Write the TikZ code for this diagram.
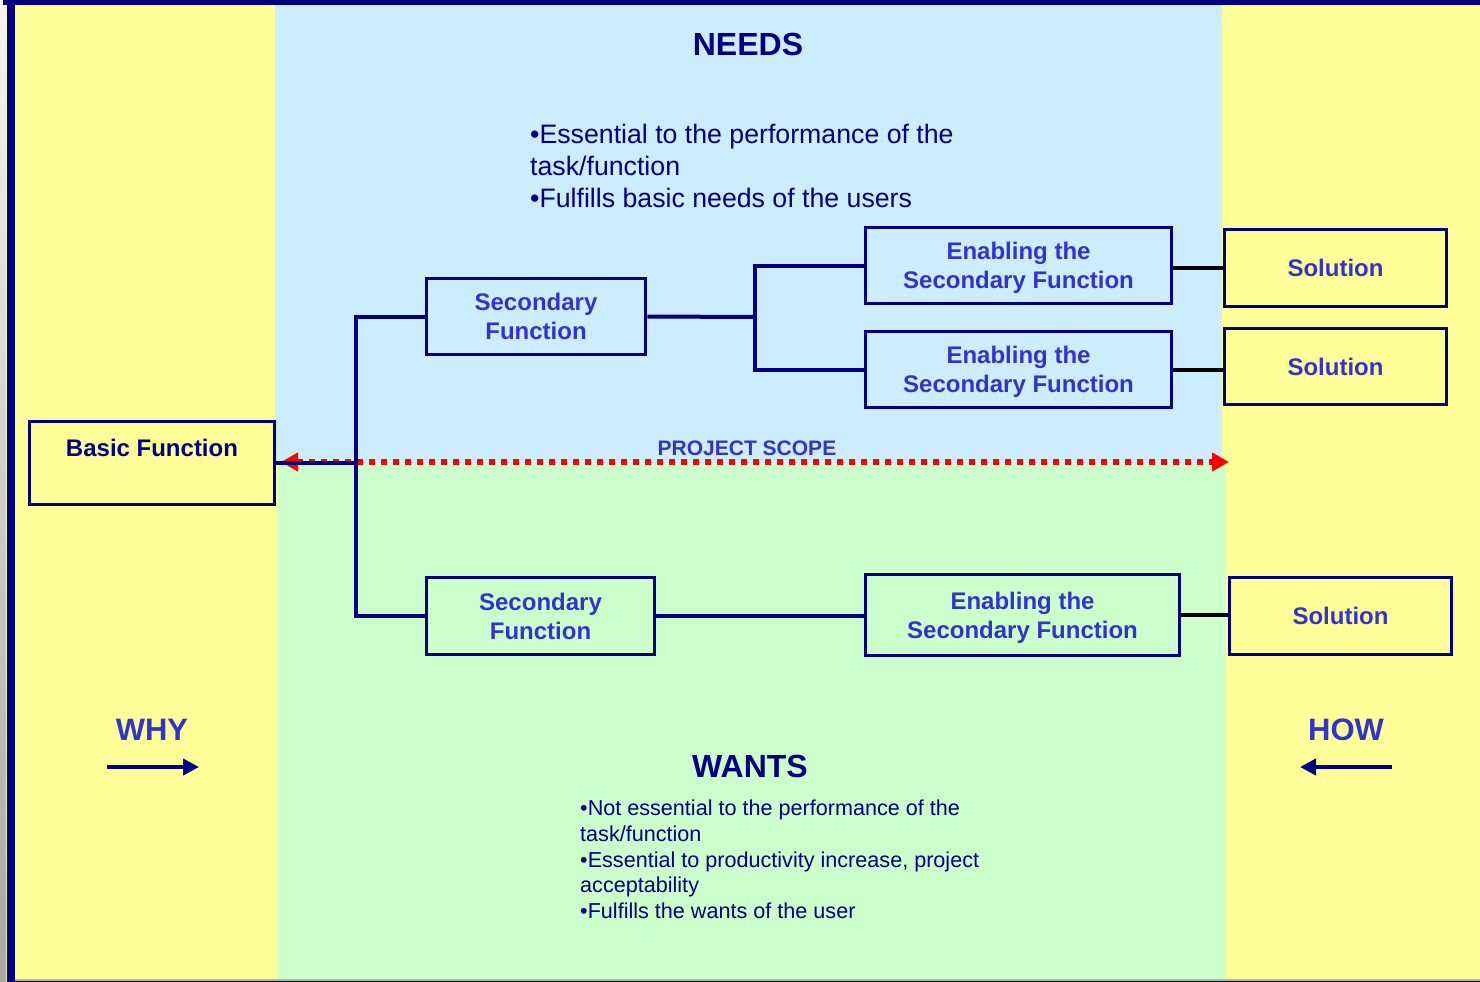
\documentclass[tikz,border=0pt]{standalone}
\usepackage{fontspec}
\setmainfont{Liberation Sans}
\usetikzlibrary{arrows.meta}
\definecolor{frame}{HTML}{000080}
\definecolor{lbl}{HTML}{3333CC}
\definecolor{bgyellow}{HTML}{FFFF99}
\definecolor{bgblue}{HTML}{CCECFF}
\definecolor{bggreen}{HTML}{CCFFCC}
\definecolor{scope}{HTML}{FF0000}
\begin{document}
\begin{tikzpicture}[x=1pt,y=-1pt,
  box/.style={draw=frame, line width=3.6pt, inner sep=0pt, align=center, text=lbl,
    text depth=-3.5pt, font=\fontsize{24}{28.8}\selectfont\bfseries},
  conn/.style={draw=frame, line width=4pt},
  link/.style={draw=black, line width=4pt},
  title/.style={font=\fontsize{32}{36}\selectfont\bfseries, text=frame},
  side/.style={font=\fontsize{31}{34}\selectfont\bfseries, text=lbl},
  sidearrow/.style={draw=frame, line width=4pt, -{Triangle[length=16pt,width=16pt]}},
  notes/.style={anchor=north west, inner sep=0pt, align=left, text=frame}]
\useasboundingbox (0,0) rectangle (1480,982);

% background bands
\fill[bgyellow] (0,0) rectangle (1480,982);
\fill[bgblue] (275,5) rectangle (1222,463);
\fill[bggreen] (278,463) rectangle (1225,982);
\shade[top color=gray!8, bottom color=gray!70] (0,0) rectangle (6,982);
\fill[frame] (7,0) rectangle (15,982);
\fill[frame] (3,0) rectangle (1480,5);
\fill[gray!60] (15,979) rectangle (1480,980.5);
\fill[frame] (15,980.5) rectangle (1480,982);

% headings and notes
\node[title] (needs) at (748,44) {NEEDS};
\node[title] (wants) at (750,766) {WANTS};
\node[notes, font=\fontsize{26.7}{32}\selectfont] (needtxt) at (530,124)
  {•Essential to the performance of the\\task/function\\•Fulfills basic needs of the users};
\node[notes, font=\fontsize{21.6}{25.6}\selectfont] (wanttxt) at (580,800)
  {•Not essential to the performance of the\\task/function\\•Essential to productivity increase, project\\acceptability\\•Fulfills the wants of the user};

% project scope
\coordinate (psL) at (281,462);
\coordinate (psR) at (1229,462);
\draw[scope, line width=6pt, dash pattern=on 6pt off 6pt,
  {Triangle[length=17pt,width=18pt]}-{Triangle[length=17pt,width=18pt]}] (psL) -- (psR);
\node[font=\fontsize{21}{24}\selectfont\bfseries, text=lbl] (scopelbl) at (747,448) {PROJECT SCOPE};

% function boxes
\node[box, fill=bgyellow, minimum width=245pt, minimum height=83pt] (basic) at (152,463) {};
\node[font=\fontsize{24}{28}\selectfont\bfseries, text=frame] (basiclbl) at (152,448) {Basic Function};
\node[box, minimum width=219pt, minimum height=76pt] (sf1) at (536,316.5) {Secondary\\Function};
\node[box, minimum width=228pt, minimum height=77pt] (sf2) at (540.5,616) {Secondary\\Function};
\node[box, minimum width=306pt, minimum height=76pt] (en1) at (1018.5,265.5) {Enabling the\\Secondary Function};
\node[box, minimum width=306pt, minimum height=76pt] (en2) at (1018.5,369.5) {Enabling the\\Secondary Function};
\node[box, minimum width=314pt, minimum height=81pt] (en3) at (1022.5,615) {Enabling the\\Secondary Function};
\node[box, minimum width=222pt, minimum height=77pt] (sol1) at (1335.5,268) {Solution};
\node[box, minimum width=222pt, minimum height=76pt] (sol2) at (1335.5,366.5) {Solution};
\node[box, minimum width=222pt, minimum height=77pt] (sol3) at (1340.5,616) {Solution};

% tree connectors
\coordinate (trunk) at (356,463);
\coordinate (branch) at (755,317);
\draw[conn] (basic.east) -- (trunk);
\draw[conn] (sf1.west) -| (trunk) |- (sf2.west);
\draw[conn] (sf1.east) -- (branch);
\draw[conn] (en1.west) -| (branch) |- (en2.west);
\draw[conn] (sf2.east) -- (sf2.east -| en3.west);
\draw[link] (en1.east |- sol1.west) -- (sol1.west);
\draw[link] (en2.east) -- (en2.east -| sol2.west);
\draw[link] (en3.east) -- (en3.east -| sol3.west);

% why / how
\node[side] (why) at (152,730) {WHY};
\node[side] (how) at (1346,730) {HOW};
\coordinate (whyA) at (107,767);
\coordinate (whyB) at (199,767);
\coordinate (howA) at (1392,767);
\coordinate (howB) at (1300,767);
\draw[sidearrow] (whyA) -- (whyB);
\draw[sidearrow] (howA) -- (howB);
\end{tikzpicture}
\end{document}
